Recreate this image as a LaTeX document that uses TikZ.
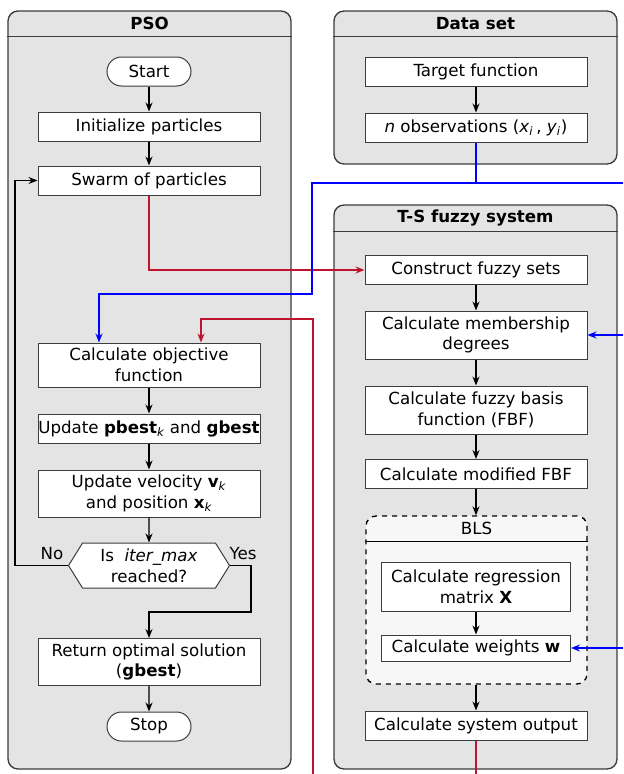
\documentclass[tikz,border=0pt]{standalone}
\usepackage{fontspec}
\setmainfont{DejaVu Sans}
\usetikzlibrary{arrows.meta,shapes.misc,shapes.symbols}
\definecolor{groupgray}{RGB}{228,228,228}
\definecolor{blsgray}{RGB}{247,247,247}
\definecolor{edgegray}{RGB}{60,60,60}
\definecolor{linkred}{RGB}{190,20,45}
\definecolor{linkblue}{RGB}{0,0,255}

\begin{document}
\fontsize{10}{12.4}\selectfont
\begin{tikzpicture}[x=0.6pt,y=-0.6pt,
		group/.style={draw=edgegray,fill=groupgray,line width=0.8pt,rounded corners=6pt,minimum width=169.8pt,inner sep=0pt},
		box/.style={draw=edgegray,fill=white,line width=0.6pt,minimum width=133.2pt,minimum height=17.4pt,align=center,inner sep=0pt},
		term/.style={draw=edgegray,fill=white,line width=0.6pt,rounded rectangle,minimum width=50.4pt,minimum height=17.4pt,inner sep=0pt},
		flow/.style={-{Stealth[length=5.4pt,width=4.2pt]},line width=0.8pt}]
			\useasboundingbox (0,0) rectangle (623,774);
			\coordinate (g_1) at (149.5,390);
			\coordinate (g_2) at (475.5,87.5);
			\coordinate (g_3) at (475.5,487);
			\coordinate (g_4) at (476.5,600);
			\coordinate (p_1) at (149,71.5);
			\coordinate (p_2) at (149,126.5);
			\coordinate (p_3) at (149,180.5);
			\coordinate (p_4) at (149,365);
			\coordinate (p_5) at (149,428.5);
			\coordinate (p_6) at (149,493.5);
			\coordinate (p_7) at (149,565.5);
			\coordinate (p_8) at (149,662);
			\coordinate (p_9) at (149,726.5);
			\coordinate (d_1) at (476,71.5);
			\coordinate (d_2) at (476,127.5);
			\coordinate (f_1) at (476,270);
			\coordinate (f_2) at (476,335);
			\coordinate (f_3) at (476,410);
			\coordinate (f_4) at (476,474);
			\coordinate (f_5) at (476,586.5);
			\coordinate (f_6) at (476,648);
			\coordinate (f_7) at (476,725.5);
			% groups
			\node[group,minimum height=454.8pt] (PsoGroup) at (g_1) {};
			\draw[edgegray,line width=0.8pt] ([yshift=-15.6pt]PsoGroup.north west) -- ([yshift=-15.6pt]PsoGroup.north east);
			\node[font=\bfseries] (PsoTitle) at ([yshift=-7.8pt]PsoGroup.north) {PSO};
			\node[group,minimum height=91.8pt] (DataGroup) at (g_2) {};
			\draw[edgegray,line width=0.8pt] ([yshift=-15.6pt]DataGroup.north west) -- ([yshift=-15.6pt]DataGroup.north east);
			\node[font=\bfseries] (DataTitle) at ([yshift=-7.8pt]DataGroup.north) {Data set};
			\node[group,minimum height=338.4pt] (FuzzyGroup) at (g_3) {};
			\draw[edgegray,line width=0.8pt] ([yshift=-16.2pt]FuzzyGroup.north west) -- ([yshift=-16.2pt]FuzzyGroup.north east);
			\node[font=\bfseries] (FuzzyTitle) at ([yshift=-8.1pt]FuzzyGroup.north) {T-S fuzzy system};
			\node[draw=black,fill=blsgray,dashed,line width=0.8pt,rounded corners=6pt,minimum width=132.6pt,minimum height=100.8pt,inner sep=0pt] (BlsGroup) at (g_4) {};
			\draw[black,line width=0.6pt] ([yshift=-15.6pt]BlsGroup.north west) -- ([yshift=-15.6pt]BlsGroup.north east);
			\node (BlsTitle) at ([yshift=-7.8pt]BlsGroup.north) {BLS};
			% PSO
			\node[term] (StartNode) at (p_1) {Start};
			\node[box] (InitNode) at (p_2) {Initialize particles};
			\node[box] (SwarmNode) at (p_3) {Swarm of particles};
			\node[box,minimum height=26.4pt] (ObjNode) at (p_4) {Calculate objective\\function};
			\node[box] (BestNode) at (p_5) {Update \textbf{pbest}\textsubscript{\itshape k} and \textbf{gbest}};
			\node[box,minimum height=28.2pt] (VelNode) at (p_6) {Update velocity \textbf{v}\textsubscript{\itshape k}\\and position \textbf{x}\textsubscript{\itshape k}};
			\node[draw=edgegray,fill=white,line width=0.6pt,signal,signal to=west and east,signal pointer angle=116,minimum width=96.6pt,minimum height=27pt,inner sep=0pt,align=center] (CheckNode) at (p_7) {Is~~\textit{iter\_max}\\reached?};
			\node[box,minimum height=28.2pt] (ReturnNode) at (p_8) {Return optimal solution\\(\textbf{gbest})};
			\node[term] (StopNode) at (p_9) {Stop};
			% data set
			\node[box] (TargetNode) at (d_1) {Target function};
			\node[box] (ObsNode) at (d_2) {\textit{n} observations (\textit{x}\textsubscript{\itshape i}\,, \textit{y}\textsubscript{\itshape i})};
			% fuzzy system
			\node[box] (SetsNode) at (f_1) {Construct fuzzy sets};
			\node[box,minimum height=28.8pt] (MemberNode) at (f_2) {Calculate membership\\degrees};
			\node[box,minimum height=28.8pt] (BasisNode) at (f_3) {Calculate fuzzy basis\\function (FBF)};
			\node[box] (ModNode) at (f_4) {Calculate modified FBF};
			\node[box,minimum width=113.4pt,minimum height=29.4pt] (RegNode) at (f_5) {Calculate regression\\matrix \textbf{X}};
			\node[box,minimum width=113.4pt,minimum height=15.6pt] (WeightNode) at (f_6) {Calculate weights \textbf{w}};
			\node[box] (OutNode) at (f_7) {Calculate system output};
			\node (NoLabel) at (52,554) {No};
			\node (YesLabel) at (243,554) {Yes};
			% links
			\coordinate (b_1) at (623,183);
			\coordinate (b_2) at (99,294);
			\coordinate (b_3) at (623,335);
			\coordinate (b_4) at (623,648);
			\coordinate (r_1) at (476,774);
			\coordinate (r_2) at (313,774);
			\coordinate (r_3) at (201,319);
			\coordinate (y_1) at (251,612);
			\draw[flow] (StartNode) -- (InitNode);
			\draw[flow] (InitNode) -- (SwarmNode);
			\draw[flow] (ObjNode) -- (BestNode);
			\draw[flow] (BestNode) -- (VelNode);
			\draw[flow] (VelNode) -- (CheckNode);
			\draw[flow] (CheckNode.west) -- ++(-53,0) |- (SwarmNode.west);
			\draw[flow] (CheckNode.east) -| (y_1) -| (ReturnNode.north);
			\draw[flow] (ReturnNode) -- (StopNode);
			\draw[flow] (TargetNode) -- (ObsNode);
			\draw[flow] (SetsNode) -- (MemberNode);
			\draw[flow] (MemberNode) -- (BasisNode);
			\draw[flow] (BasisNode) -- (ModNode);
			\draw[flow] (ModNode) -- (BlsGroup.north -| ModNode);
			\draw[flow] (RegNode) -- (WeightNode);
			\draw[flow] (BlsGroup.south -| OutNode) -- (OutNode);
			\draw[flow,linkred] (SwarmNode.south) |- (SetsNode.west);
			\draw[line width=0.8pt,linkred] (OutNode.south) -- (r_1);
			\draw[flow,linkred] (r_2) |- (r_3) -- (r_3 |- ObjNode.north);
			\draw[line width=0.8pt,linkblue] (ObsNode.south) |- (b_1);
			\draw[flow,linkblue] (ObsNode.south) |- (312,183) |- (b_2) -- (b_2 |- ObjNode.north);
			\draw[flow,linkblue] (b_3) -- (MemberNode.east);
			\draw[flow,linkblue] (b_4) -- (WeightNode.east);
		\end{tikzpicture}
\end{document}
